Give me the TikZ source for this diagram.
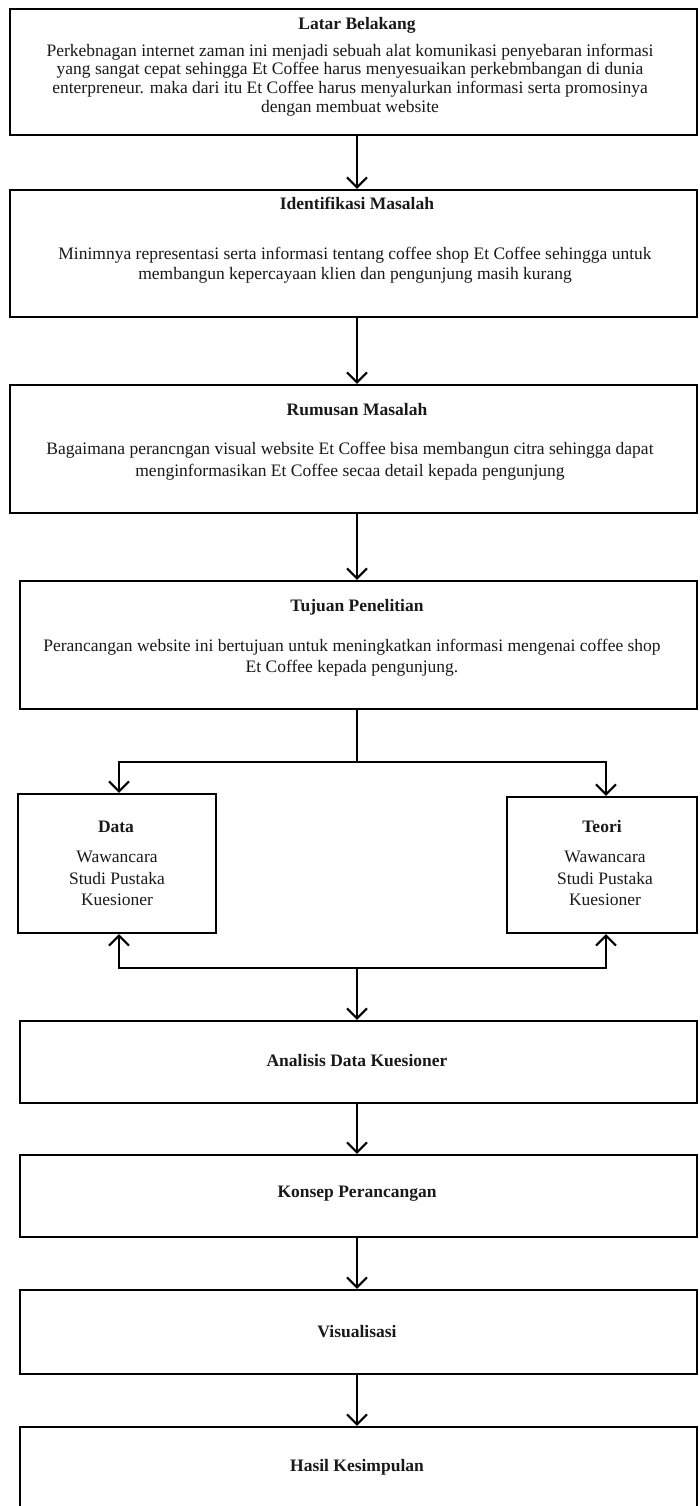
\documentclass[tikz,border=0pt]{standalone}
\usepackage{fontspec}
\setmainfont{Liberation Serif}
\usetikzlibrary{arrows.meta}
\begin{document}
\begin{tikzpicture}[x=1pt,y=-1pt,
  box/.style={draw=black, line width=2.4pt, rectangle, inner sep=0pt},
  ttl/.style={font=\fontsize{17.5}{20}\selectfont\bfseries, inner sep=0pt, text=black!90},
  body/.style={font=\fontsize{17.5}{20}\selectfont, align=center, inner sep=0pt, text=black!90},
  arr/.style={line width=2pt, -{Straight Barb[length=10pt,width=20pt,line width=2pt]}},
  ln/.style={line width=2pt}]
\useasboundingbox (0,0) rectangle (699,1506);
\fill[white] (0,0) rectangle (699,1506);
\coordinate (ax) at (357,0);

% main boxes
\node[box, minimum width=687pt, minimum height=126pt] (b1) at (353.5,72) {};
\node[box, minimum width=687pt, minimum height=127pt] (b2) at (353.5,253.5) {};
\node[box, minimum width=687pt, minimum height=128pt] (b3) at (353.5,449) {};
\node[box, minimum width=677pt, minimum height=128pt] (b4) at (358.5,645) {};
\node[box, minimum width=198pt, minimum height=139pt] (data) at (117,863.5) {};
\node[box, minimum width=190pt, minimum height=136pt] (teori) at (602,865) {};
\node[box, minimum width=677pt, minimum height=82pt] (b5) at (358.5,1062) {};
\node[box, minimum width=677pt, minimum height=82pt] (b6) at (358.5,1196) {};
\node[box, minimum width=677pt, minimum height=84pt] (b7) at (358.5,1332) {};
\node[box, minimum width=677pt, minimum height=84pt] (b8) at (358.5,1469) {};

% texts
\node[ttl] (t1) at (357,25) {Latar Belakang};
\node[body, font=\fontsize{17.5}{18.7}\selectfont] (d1) at (350,80) {Perkebnagan internet zaman ini menjadi sebuah alat komunikasi penyebaran informasi\\
yang sangat cepat sehingga Et Coffee harus menyesuaikan perkebmbangan di dunia\\
enterpreneur. maka dari itu Et Coffee harus menyalurkan informasi serta promosinya\\
dengan membuat website};

\node[ttl] (t2) at (357,203) {Identifikasi Masalah};
\node[body] (d2) at (355,265) {Minimnya representasi serta informasi tentang coffee shop Et Coffee sehingga untuk\\
membangun kepercayaan klien dan pengunjung masih kurang};

\node[ttl] (t3) at (357,410) {Rumusan Masalah};
\node[body, font=\fontsize{17.5}{22}\selectfont] (d3) at (350,461) {Bagaimana perancngan visual website Et Coffee bisa membangun citra sehingga dapat\\
menginformasikan Et Coffee secaa detail kepada pengunjung};

\node[ttl] (t4) at (357,607) {Tujuan Penelitian};
\node[body, font=\fontsize{17.5}{21}\selectfont] (d4) at (352,657.5) {Perancangan website ini bertujuan untuk meningkatkan informasi mengenai coffee shop\\
Et Coffee kepada pengunjung.};

\node[ttl] (tdata) at (116,827) {Data};
\node[body, font=\fontsize{17.5}{21.5}\selectfont] (ddata) at (117,878.5) {Wawancara\\Studi Pustaka\\Kuesioner};
\node[ttl] (tteori) at (602,827) {Teori};
\node[body, font=\fontsize{17.5}{21.5}\selectfont] (dteori) at (605,878.5) {Wawancara\\Studi Pustaka\\Kuesioner};

\node[ttl] (t5) at (357,1061) {Analisis Data Kuesioner};
\node[ttl] (t6) at (357,1194) {Konsep Perancangan};
\node[ttl] (t7) at (357,1332) {Visualisasi};
\node[ttl] (t8) at (357,1467) {Hasil Kesimpulan};

% connectors
\draw[arr] (b1.south -| ax) -- (b2.north -| ax);
\draw[arr] (b2.south -| ax) -- (b3.north -| ax);
\draw[arr] (b3.south -| ax) -- (b4.north -| ax);

\coordinate (jt) at (357,762);
\coordinate (jb) at (357,968);
\draw[ln] (b4.south -| ax) -- (jt);
\draw[arr] (jt) -| ([xshift=2pt]data.north);
\draw[arr] (jt) -| ([xshift=4pt]teori.north);
\draw[arr] (jb) -| ([xshift=2pt]data.south);
\draw[arr] (jb) -| ([xshift=4pt]teori.south);
\draw[arr] (jb) -- (b5.north -| ax);

\draw[arr] (b5.south -| ax) -- (b6.north -| ax);
\draw[arr] (b6.south -| ax) -- (b7.north -| ax);
\draw[arr] (b7.south -| ax) -- (b8.north -| ax);
\end{tikzpicture}
\end{document}
